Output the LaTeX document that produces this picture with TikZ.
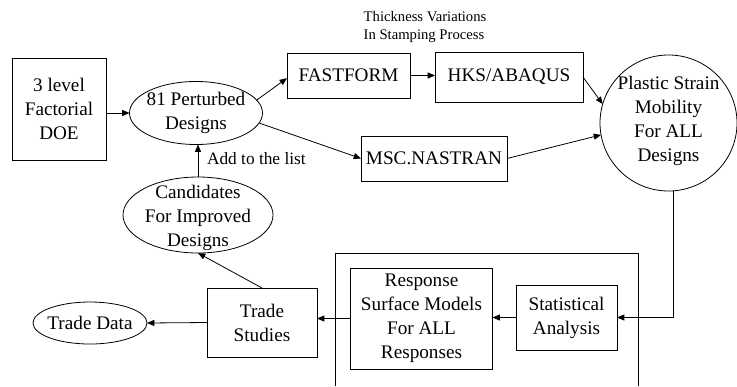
\documentclass[tikz,border=0pt]{standalone}
\usepackage{fontspec}
\setmainfont{Liberation Serif}
\usetikzlibrary{shapes.geometric,arrows.meta}
\begin{document}
\begin{tikzpicture}[x=0.75pt,y=-0.75pt,
  every node/.style={inner sep=0pt,outer sep=0pt},
  box/.style={draw,line width=0.7pt,align=center,font=\fontsize{14.4}{18}\selectfont},
  oval/.style={draw,ellipse,line width=0.6pt},
  txt/.style={align=center,font=\fontsize{14.4}{18}\selectfont},
  small/.style={align=left,font=\fontsize{11}{14}\selectfont},
  arr/.style={line width=0.6pt,-{Triangle[length=5.5pt,width=4.5pt]}},
  ln/.style={line width=0.7pt}]
\useasboundingbox (0,0) rectangle (737,386);
% boxes
\node[box,minimum width=70.5pt,minimum height=76.5pt] (doe) at (59,109) {3 level\\Factorial\\DOE};
\node[oval,minimum width=99.75pt,minimum height=47.25pt] (pert) at (196,113) {};
\node[txt] (pertt) at (pert) {81 Perturbed\\Designs};
\node[box,minimum width=92.25pt,minimum height=33.75pt] (ff) at (348.5,75.5) {FASTFORM};
\node[box,minimum width=111pt,minimum height=37.5pt] (hks) at (509,77) {HKS/ABAQUS};
\node[box,minimum width=109.5pt,minimum height=33.75pt] (msc) at (434,158.5) {MSC.NASTRAN};
\node[oval,minimum width=102.75pt,minimum height=102pt] (circ) at (668.5,123) {};
\node[txt] (circt) at (668.5,121) {Plastic Strain\\Mobility\\For ALL\\Designs};
\node[small] (thick) at (425,27) {Thickness Variations\\In Stamping Process};
\node[oval,minimum width=112.5pt,minimum height=57pt] (cand) at (198,215) {};
\node[txt] (candt) at (198,218) {Candidates\\For Improved\\Designs};
\node[font=\fontsize{13}{15}\selectfont,anchor=west] (add) at (207,159) {Add to the list};
\node[oval,minimum width=85.5pt,minimum height=31.5pt] (tdata) at (90,323) {};
\node[txt] (tdatat) at (tdata) {Trade Data};
\node[box,minimum width=82.5pt,minimum height=51.75pt] (ts) at (262,322.5) {Trade\\Studies};
\node[box,minimum width=106.5pt,minimum height=75.75pt] (resp) at (421.5,318.5) {Response\\Surface Models\\For ALL\\Responses};
\node[box,minimum width=75.75pt,minimum height=48.75pt] (stat) at (566.5,317.5) {Statistical\\Analysis};
% big open box
\coordinate (bbl) at (335,386);
\coordinate (bbr) at (638,386);
\draw[ln] (bbl) -- (335,253) -- (638,253) -- (bbr);
% connectors
\draw[arr] (doe.east |- pert) -- (pert.west);
\draw[arr] (pert.12) -- ([yshift=-2pt]ff.west);
\draw[arr] (pert.-9) -- (msc.west);
\draw[arr] (ff.east) -- (ff.east -| hks.west);
\draw[arr] (hks.east) -- (circ.164);
\draw[arr] (msc.east) -- (circ.190);
\draw[arr] ([xshift=4pt]circ.south) |- (stat.east);
\draw[arr] (stat.west) -- (stat.west -| resp.east);
\draw[arr] (resp.west) -- (resp.west -| ts.east);
\draw[arr] (ts.west) -- (tdata.east);
\draw[arr] (ts.north) -- (cand.south);
\draw[arr] (cand.north) -- (cand.north |- pert.south);
\end{tikzpicture}
\end{document}
